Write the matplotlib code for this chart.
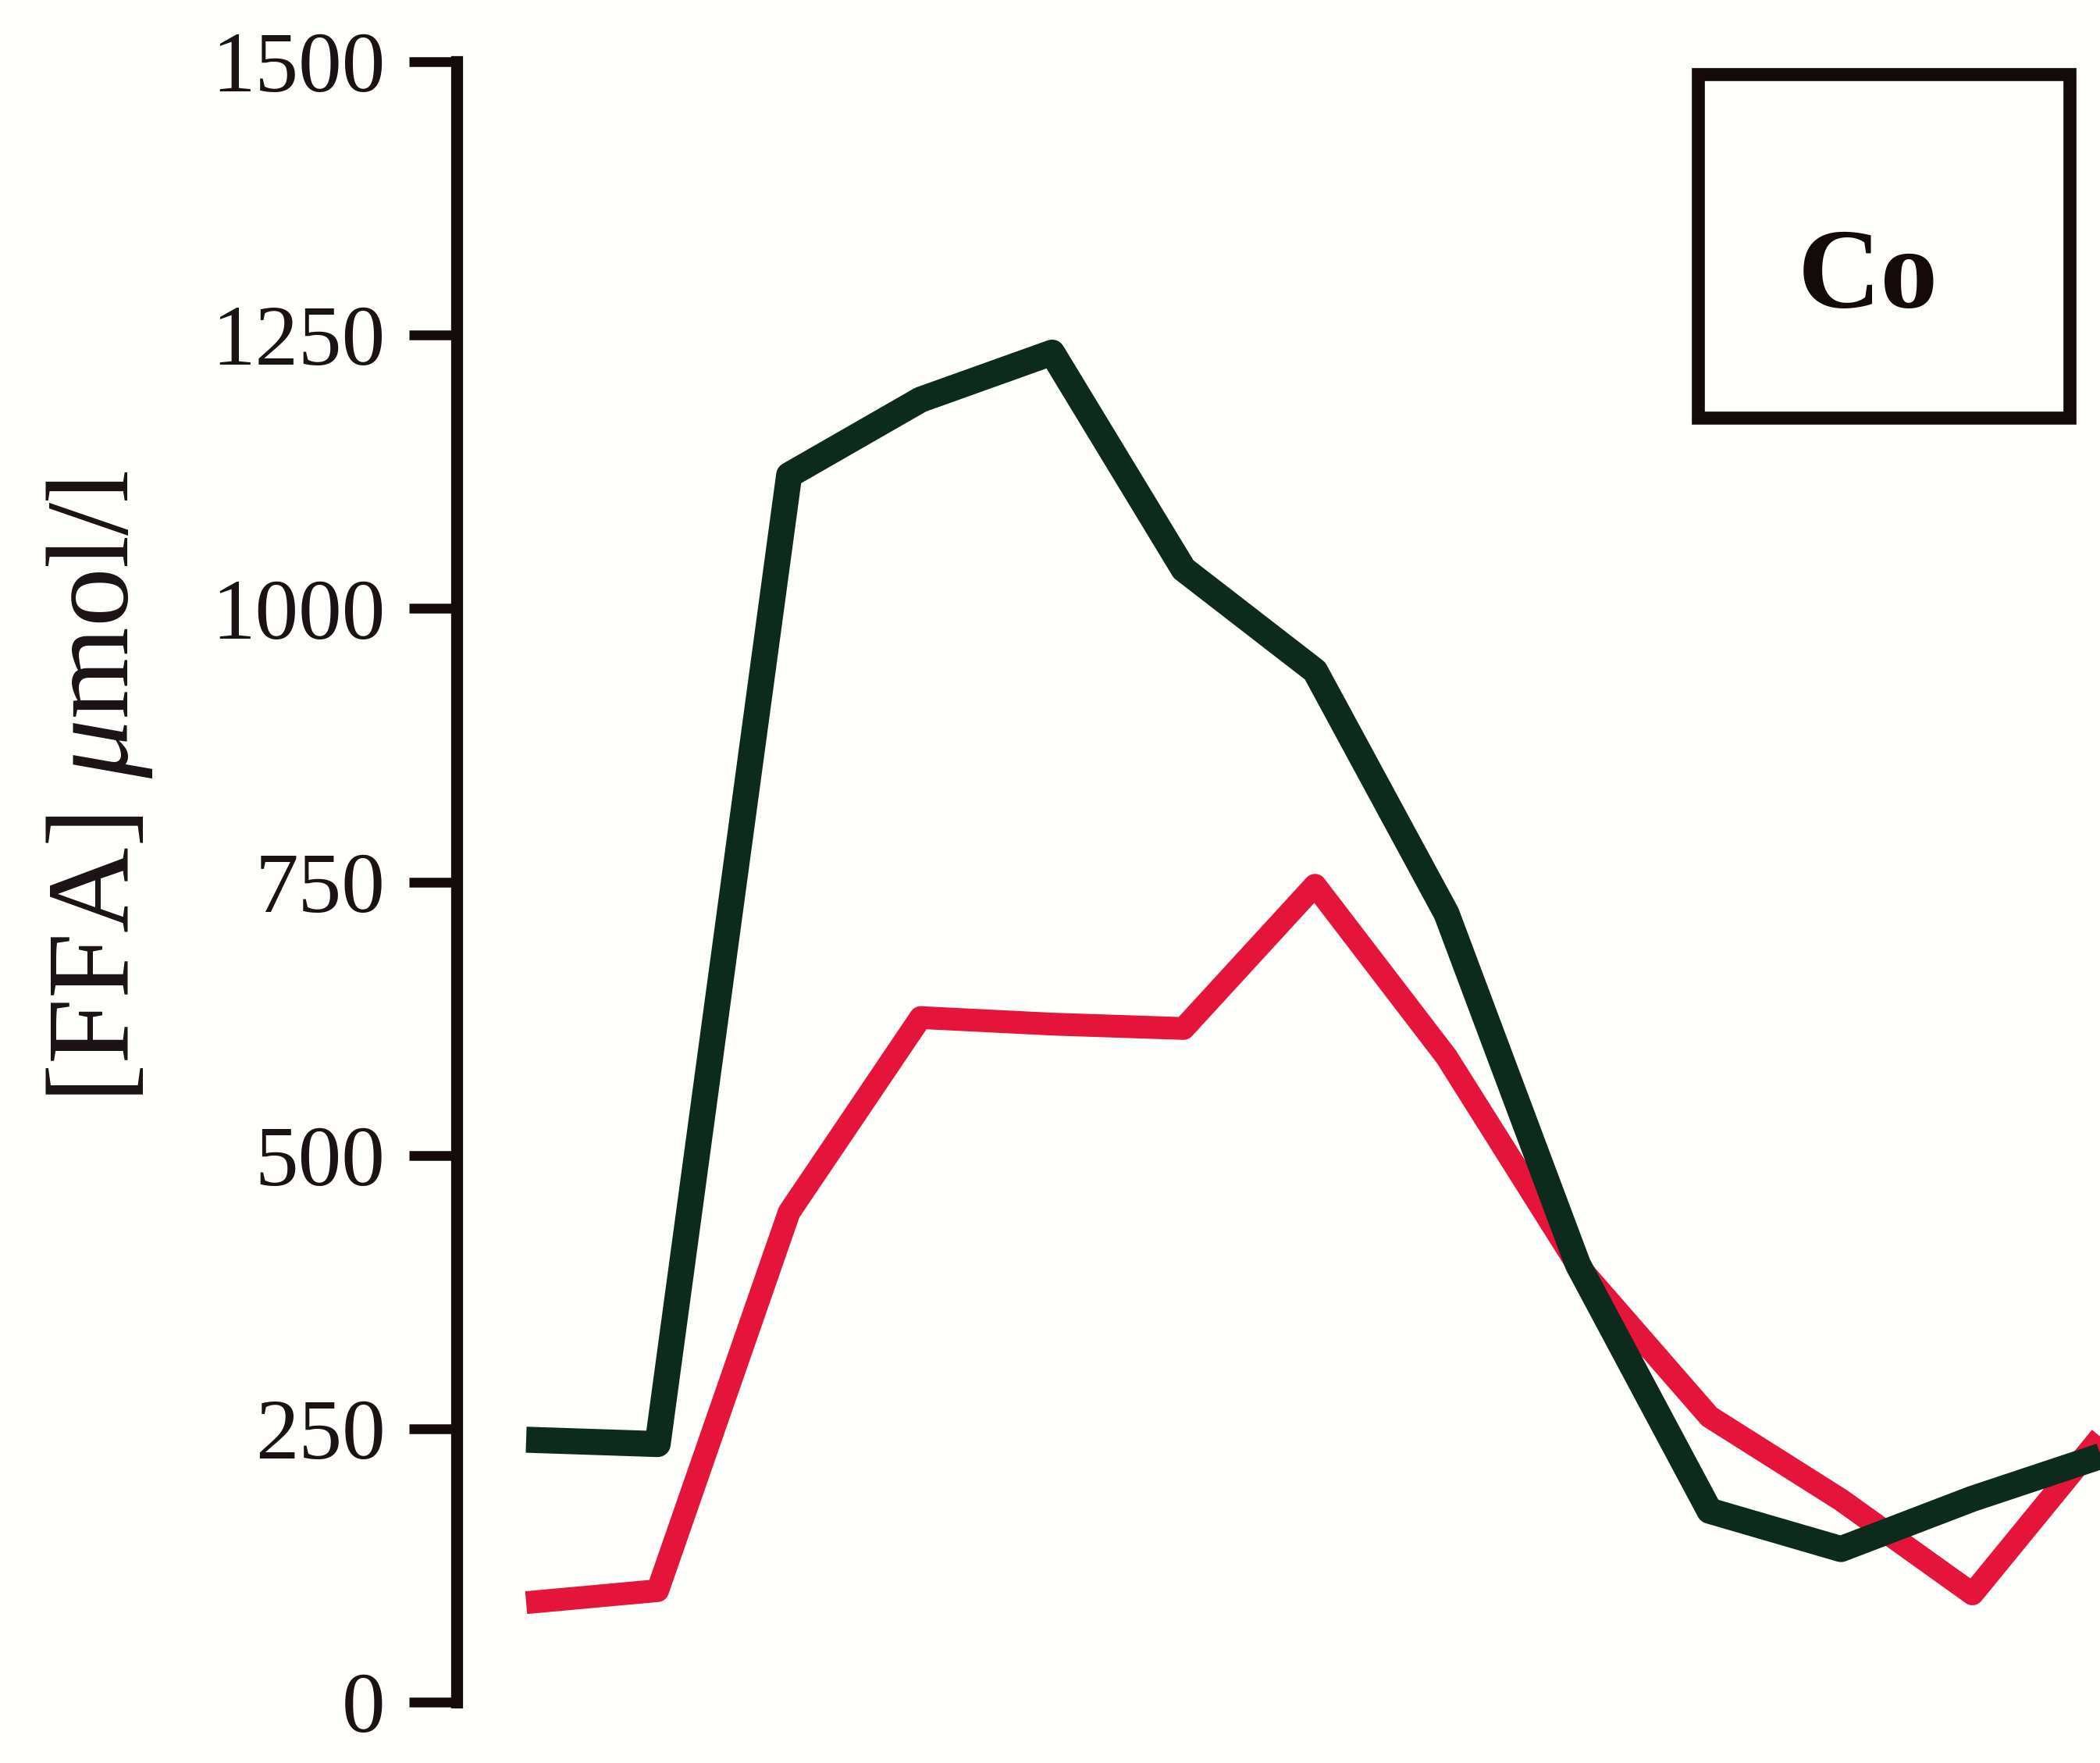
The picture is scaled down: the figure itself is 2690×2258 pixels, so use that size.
import numpy as np
import matplotlib
matplotlib.use("Agg")
import matplotlib.pyplot as plt
from matplotlib.patches import Rectangle

# sampling points (index along time axis, no x axis shown)
t = np.arange(13)

# [FFA] in umol/l
ffa_green = [240, 236, 1122, 1191, 1234, 1036, 943, 721, 400, 175, 140, 186, 226]
ffa_red = [91, 102, 448, 626, 620, 616, 747, 590, 399, 261, 185, 99, 246]

yticks = [0, 250, 500, 750, 1000, 1250, 1500]
ylabel = r"[FFA] $\mathit{\mu}$mol/l"
box_label = "Co"

plt.rcParams["font.family"] = ["Liberation Serif", "DejaVu Serif"]
plt.rcParams["mathtext.fontset"] = "custom"
plt.rcParams["mathtext.rm"] = "Liberation Serif"
plt.rcParams["mathtext.it"] = "Liberation Serif:italic"

ink = "#140a0c"

fig = plt.figure(figsize=(26.9, 22.58), dpi=100, facecolor="#fffffc")
ax = fig.add_axes([0.2175, 0.0345, 0.7825, 0.9305])
ax.set_facecolor("#fffffc")

ax.plot(t, ffa_green, color="#0d2b1c", lw=24, solid_joinstyle="round",
        solid_capstyle="butt", zorder=3)
ax.plot(t, ffa_red, color="#e5143a", lw=21, solid_joinstyle="round",
        solid_capstyle="butt", zorder=2)

ax.set_ylim(0, 1500)
ax.set_xlim(-0.528, 11.97)

for s in ["top", "right", "bottom"]:
    ax.spines[s].set_visible(False)
ax.spines["left"].set_linewidth(11)
ax.spines["left"].set_color(ink)
ax.spines["left"].set_capstyle("projecting")

ax.set_xticks([])
ax.set_yticks(yticks)
ax.set_yticklabels([str(v) for v in yticks])
ax.tick_params(axis="y", direction="out", length=44, width=9, color=ink,
               labelsize=80, pad=22, labelcolor="#1a1214")

ax.set_ylabel(ylabel, fontsize=109, color="#1a1214")
ax.yaxis.set_label_coords(-0.184, 0.558)

# label box top right
fig.patches.append(Rectangle((0.8086, 0.763), 0.1769, 0.195, transform=fig.transFigure,
                             fill=False, lw=12, edgecolor=ink))
fig.text(0.8896, 0.8255, box_label, fontsize=106, fontweight="bold",
         ha="center", va="baseline", color=ink)

fig.savefig("out.png", dpi=100, facecolor=fig.get_facecolor())
